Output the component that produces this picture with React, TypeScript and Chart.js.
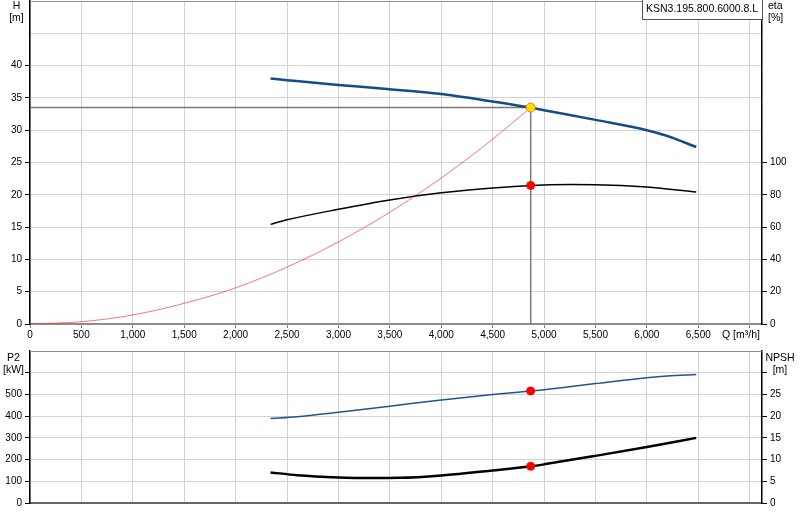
import React, { useEffect, useRef } from "react";
import { Chart, registerables } from "chart.js";

Chart.register(...registerables);

// flow axis Q [m³/h]
const Q_MAX = 7120;
const qTicks = [0, 500, 1000, 1500, 2000, 2500, 3000, 3500, 4000, 4500, 5000, 5500, 6000, 6500, 7000];
const Q_LAST_LABEL = 6500;

// head curve H [m]
const hQ = [2340, 2500, 3000, 3500, 4000, 4500, 4870, 5000, 5500, 6000, 6200, 6480];
const hVals = [38.0, 37.75, 37.0, 36.35, 35.6, 34.45, 33.5, 33.1, 31.6, 30.0, 29.1, 27.4];

// efficiency eta [%]
const etaQ = [2340, 2500, 3000, 3500, 4000, 4500, 4870, 5250, 5500, 6000, 6480];
const etaVals = [61.7, 64.5, 71.0, 76.8, 81.2, 84.2, 85.8, 86.4, 86.3, 84.8, 81.7];

// system curve (red)
const sysQ = [0, 500, 1000, 1500, 2000, 2500, 3000, 3500, 4000, 4500, 4870];
const sysH = [0, 0.35, 1.4, 3.2, 5.6, 8.8, 12.7, 17.3, 22.6, 28.6, 33.5];

// shaft power P2 [kW]
const p2Q = [2340, 2600, 3000, 3500, 4000, 4500, 4870, 5000, 5500, 6000, 6200, 6480];
const p2Vals = [389, 397, 418, 446, 474, 500, 516, 522, 550, 577, 585, 592];

// NPSH [m]
const npshQ = [2340, 2600, 3000, 3300, 3600, 4000, 4500, 4870, 5000, 5500, 6000, 6480];
const npshVals = [7.05, 6.4, 5.9, 5.75, 5.8, 6.35, 7.5, 8.45, 8.9, 10.85, 12.9, 15.0];

// duty point
const dutyQ = 4870;
const dutyH = 33.5;
const dutyEta = 85.8;
const dutyP2 = 516;
const dutyNpsh = 8.45;

// axis ranges / last labelled tick
const H_MAX = 50, H_STEP = 5, H_LAST = 40;
const ETA_MAX = 200, ETA_STEP = 20, ETA_LAST = 100;
const P2_MAX = 700, P2_STEP = 100, P2_LAST = 500, P2_LAST_TICK = 600;
const NPSH_MAX = 35, NPSH_STEP = 5, NPSH_LAST = 25, NPSH_LAST_TICK = 30;

const FONT = "'Liberation Sans', Arial, sans-serif";
const GRID = "#d2d2d2";

const pts = (xs: number[], ys: number[]) => xs.map((x, i) => ({ x, y: ys[i] }));

const topBorder = {
  id: "topBorder",
  afterDraw(chart: any) {
    const { ctx, chartArea } = chart;
    ctx.save();
    ctx.strokeStyle = "#8c8c8c";
    ctx.lineWidth = 1;
    ctx.beginPath();
    ctx.moveTo(chartArea.left, Math.round(chartArea.top) + 0.5);
    ctx.lineTo(chartArea.right, Math.round(chartArea.top) + 0.5);
    ctx.stroke();
    ctx.restore();
  },
};

const fixWidth = (w: number) => (s: any) => {
  s.width = w;
  s.paddingTop = 0;
  s.paddingBottom = 0;
};
const fixHeight = (h: number) => (s: any) => {
  s.height = h;
  s.paddingLeft = 0;
  s.paddingRight = 0;
};
const useQTicks = (s: any) => {
  s.ticks = qTicks.map((value) => ({ value }));
};

const yAxis = (pos: string, max: number, step: number, last: number, lastTick: number, grid: boolean, w: number) => ({
  type: "linear",
  position: pos,
  min: 0,
  max,
  afterFit: fixWidth(w),
  ticks: {
    stepSize: step,
    maxTicksLimit: 30,
    color: "#000",
    padding: 3,
    font: { family: FONT, size: 10 },
    callback: (v: number) => (v > last ? "" : String(v)),
  },
  grid: {
    display: true,
    drawOnChartArea: grid,
    color: GRID,
    tickLength: 5,
    tickColor: (c: any) => (c.tick && c.tick.value > lastTick ? "rgba(0,0,0,0)" : "#000"),
  },
  border: { color: "#000", width: 1.5 },
});

const App: React.FC = () => {
  const topRef = useRef<HTMLCanvasElement | null>(null);
  const botRef = useRef<HTMLCanvasElement | null>(null);

  useEffect(() => {
    const tctx = topRef.current?.getContext("2d");
    const bctx = botRef.current?.getContext("2d");
    if (!tctx || !bctx) return;

    const top = new Chart(tctx, {
      type: "line",
      data: {
        datasets: [
          {
            label: "duty lines",
            data: [{ x: 0, y: dutyH }, { x: dutyQ, y: dutyH }, { x: dutyQ, y: 0 }],
            borderColor: "#7a7a7a",
            borderWidth: 1.5,
            pointRadius: 0,
            tension: 0,
            yAxisID: "y",
            order: 5,
          },
          {
            label: "system",
            data: pts(sysQ, sysH),
            borderColor: "rgba(255,40,40,0.65)",
            borderWidth: 1,
            pointRadius: 0,
            cubicInterpolationMode: "monotone",
            yAxisID: "y",
            order: 4,
          },
          {
            label: "H",
            data: pts(hQ, hVals),
            borderColor: "#124c8a",
            borderWidth: 2.5,
            pointRadius: 0,
            cubicInterpolationMode: "monotone",
            yAxisID: "y",
            order: 3,
          },
          {
            label: "eta",
            data: pts(etaQ, etaVals),
            borderColor: "#000",
            borderWidth: 1.5,
            pointRadius: 0,
            cubicInterpolationMode: "monotone",
            yAxisID: "y2",
            order: 3,
          },
          {
            label: "duty H",
            data: [{ x: dutyQ, y: dutyH }],
            showLine: false,
            pointRadius: 4.5,
            pointBackgroundColor: "#ffe100",
            pointBorderColor: "#ff7a00",
            pointBorderWidth: 1,
            yAxisID: "y",
            order: 1,
          },
          {
            label: "duty eta",
            data: [{ x: dutyQ, y: dutyEta }],
            showLine: false,
            pointRadius: 4,
            pointBackgroundColor: "#ff0000",
            pointBorderColor: "#ff0000",
            yAxisID: "y2",
            order: 1,
          },
        ],
      },
      options: {
        animation: false,
        responsive: true,
        maintainAspectRatio: false,
        layout: { autoPadding: false, padding: { top: 1, left: 0, right: 0, bottom: 0 } },
        plugins: { legend: { display: false }, tooltip: { enabled: false } },
        events: [],
        scales: {
          x: {
            type: "linear",
            min: 0,
            max: Q_MAX,
            afterBuildTicks: useQTicks,
            afterFit: fixHeight(21),
            ticks: {
              autoSkip: false,
              maxRotation: 0,
              padding: 1,
              color: "#000",
              font: { family: FONT, size: 10 },
              callback: (v: number) => (v > Q_LAST_LABEL ? "" : v.toLocaleString("en-US")),
            },
            grid: { color: GRID, tickLength: 4, tickColor: "#808080" },
            border: { color: "#8c8c8c", width: 2 },
          },
          y: yAxis("left", H_MAX, H_STEP, H_LAST, H_LAST, true, 30),
          y2: yAxis("right", ETA_MAX, ETA_STEP, ETA_LAST, ETA_LAST, false, 38),
        } as any,
      },
      plugins: [topBorder],
    } as any);

    const bottom = new Chart(bctx, {
      type: "line",
      data: {
        datasets: [
          {
            label: "P2",
            data: pts(p2Q, p2Vals),
            borderColor: "#1d5592",
            borderWidth: 1.5,
            pointRadius: 0,
            cubicInterpolationMode: "monotone",
            yAxisID: "y",
            order: 3,
          },
          {
            label: "NPSH",
            data: pts(npshQ, npshVals),
            borderColor: "#000",
            borderWidth: 2.5,
            pointRadius: 0,
            cubicInterpolationMode: "monotone",
            yAxisID: "y2",
            order: 3,
          },
          {
            label: "duty P2",
            data: [{ x: dutyQ, y: dutyP2 }],
            showLine: false,
            pointRadius: 4,
            pointBackgroundColor: "#ff0000",
            pointBorderColor: "#ff0000",
            yAxisID: "y",
            order: 1,
          },
          {
            label: "duty NPSH",
            data: [{ x: dutyQ, y: dutyNpsh }],
            showLine: false,
            pointRadius: 4,
            pointBackgroundColor: "#ff0000",
            pointBorderColor: "#ff0000",
            yAxisID: "y2",
            order: 1,
          },
        ],
      },
      options: {
        animation: false,
        responsive: true,
        maintainAspectRatio: false,
        layout: { autoPadding: false, padding: { top: 6, left: 0, right: 0, bottom: 0 } },
        plugins: { legend: { display: false }, tooltip: { enabled: false } },
        events: [],
        scales: {
          x: {
            type: "linear",
            min: 0,
            max: Q_MAX,
            afterBuildTicks: useQTicks,
            afterFit: fixHeight(17),
            ticks: { display: false },
            grid: { color: GRID, drawTicks: false },
            border: { color: "#666", width: 2 },
          },
          y: yAxis("left", P2_MAX, P2_STEP, P2_LAST, P2_LAST_TICK, true, 30),
          y2: yAxis("right", NPSH_MAX, NPSH_STEP, NPSH_LAST, NPSH_LAST_TICK, false, 38),
        } as any,
      },
      plugins: [topBorder],
    } as any);

    return () => {
      top.destroy();
      bottom.destroy();
    };
  }, []);

  const txt: React.CSSProperties = {
    position: "absolute",
    fontFamily: FONT,
    fontSize: 10.5,
    lineHeight: "12px",
    color: "#000",
    whiteSpace: "nowrap",
  };

  return (
    <div
      style={{
        position: "fixed",
        left: 0,
        top: 0,
        width: 800,
        height: 520,
        background: "#fff",
        overflow: "hidden",
      }}
    >
      <div style={{ position: "absolute", left: 0, top: 0, width: 800, height: 345 }}>
        <canvas ref={topRef} />
      </div>
      <div style={{ position: "absolute", left: 0, top: 345, width: 800, height: 175 }}>
        <canvas ref={botRef} />
      </div>

      <div style={{ ...txt, left: 0, top: -1, width: 33, textAlign: "center" }}>
        H<br />[m]
      </div>
      <div style={{ ...txt, left: 768, top: -1 }}>
        eta<br />[%]
      </div>
      <div style={{ ...txt, left: 0, top: 351, width: 27, textAlign: "center" }}>
        P2<br />[kW]
      </div>
      <div style={{ ...txt, left: 764, top: 351, width: 32, textAlign: "center" }}>
        NPSH<br />[m]
      </div>
      <div style={{ ...txt, left: 722, top: 328 }}>
        Q [m³/h]
      </div>
      <div
        style={{
          ...txt,
          left: 642,
          top: -1,
          width: 121,
          height: 21,
          boxSizing: "border-box",
          border: "1px solid #555",
          background: "#fff",
          paddingLeft: 3,
          paddingTop: 2,
          overflow: "hidden",
        }}
      >
        KSN3.195.800.6000.8.L
      </div>
    </div>
  );
};

export default App;
